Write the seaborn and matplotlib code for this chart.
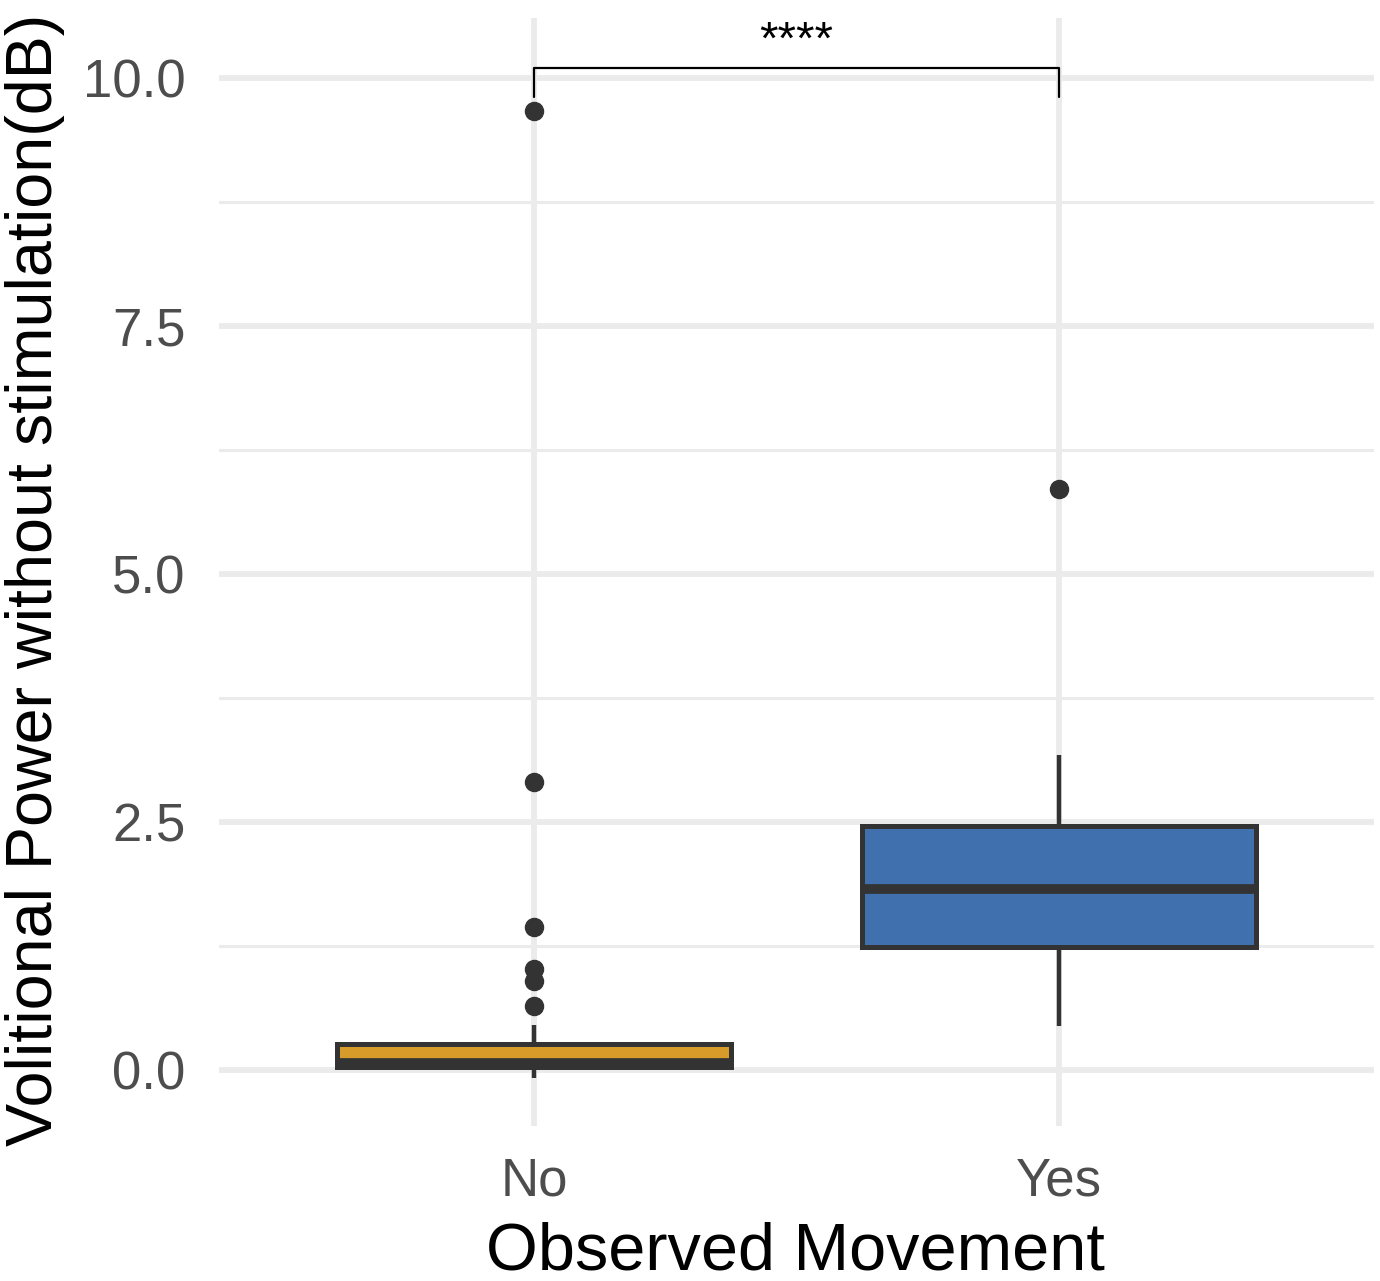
import numpy as np
import pandas as pd
import matplotlib
matplotlib.use("Agg")
import matplotlib.pyplot as plt
import seaborn as sns

# ---- data ----
categories = ["No", "Yes"]
no_values = [-0.08, -0.06, -0.04, -0.02, 0.00, 0.01, 0.02, 0.03,
             0.04, 0.04, 0.05, 0.05, 0.06, 0.06, 0.07,
             0.09, 0.12, 0.15, 0.18, 0.21, 0.24, 0.27,
             0.46, 0.65, 0.90, 1.02, 1.44, 2.91, 9.66]
yes_values = [0.45, 0.70, 0.95, 1.10, 1.24, 1.40, 1.55, 1.70, 1.83,
              2.00, 2.20, 2.35, 2.46, 2.70, 2.95, 3.18, 5.86]
box_colors = ["#D69B28", "#4070AD"]
y_ticks = [0.0, 2.5, 5.0, 7.5, 10.0]
y_tick_labels = ["0.0", "2.5", "5.0", "7.5", "10.0"]
sig_label = "****"
sig_bracket_y = 10.10
sig_tip_y = 9.80
sig_text_y = 10.36

df = pd.DataFrame({
    "movement": ["No"] * len(no_values) + ["Yes"] * len(yes_values),
    "power": no_values + yes_values,
})

sns.set_theme(style="white")
plt.rcParams["font.family"] = ["Liberation Sans", "DejaVu Sans"]

fig = plt.figure(figsize=(13.8, 12.81), dpi=100)
ax = fig.add_axes([0.1587, 0.121, 0.837, 0.8649])

sns.boxplot(data=df, x="movement", y="power", hue="movement",
            order=categories, hue_order=categories,
            palette=dict(zip(categories, box_colors)), legend=False,
            saturation=1, width=0.75, linecolor="#333333", linewidth=3.6,
            showcaps=False, whis=1.5,
            flierprops=dict(marker="o", markerfacecolor="#333333",
                            markeredgecolor="#333333", markersize=13),
            medianprops=dict(color="#333333", linewidth=7),
            whiskerprops=dict(color="#333333", linewidth=3.2),
            ax=ax, zorder=3)

ax.set_xlim(-0.6, 1.6)
ax.set_ylim(-0.56, 10.6)
ax.set_yticks(y_ticks)
ax.set_yticklabels(y_tick_labels)
ax.set_yticks([1.25, 3.75, 6.25, 8.75], minor=True)

ax.grid(True, which="major", color="#EBEBEB", linewidth=4.2, zorder=0)
ax.grid(True, which="minor", axis="y", color="#EBEBEB", linewidth=2.2, zorder=0)
ax.set_axisbelow(True)
for s in ax.spines.values():
    s.set_visible(False)

ax.tick_params(axis="both", which="both", length=0, labelsize=38,
               labelcolor="#4D4D4D")
ax.tick_params(axis="y", pad=24)
ax.tick_params(axis="x", pad=22)

ax.set_xlabel("Observed Movement", fontsize=48, color="black")
ax.set_ylabel("Volitional Power without stimulation(dB)", fontsize=46.5, color="black")
ax.xaxis.set_label_coords(0.499, -0.086)
ax.yaxis.set_label_coords(-0.133, 0.493)

# significance bracket
ax.plot([0, 0, 1, 1], [sig_tip_y, sig_bracket_y, sig_bracket_y, sig_tip_y],
        color="black", linewidth=1.6, zorder=4, clip_on=False)
ax.text(0.5, sig_text_y, sig_label, ha="center", va="center",
        fontsize=34, color="black", zorder=4)

fig.savefig("out.png", dpi=100, facecolor="white")
